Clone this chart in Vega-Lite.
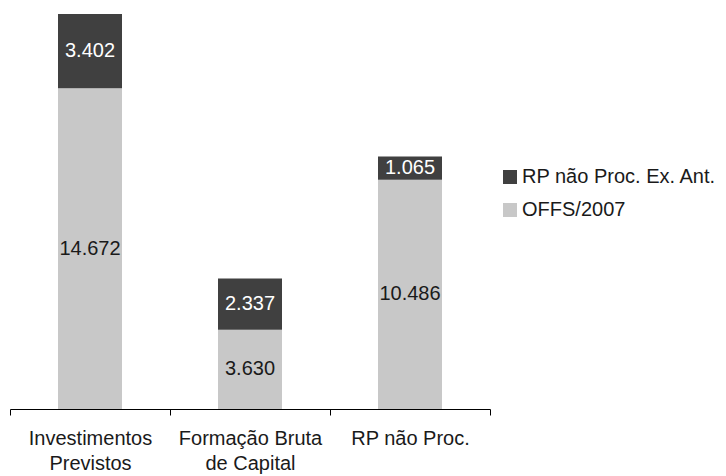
{
  "$schema": "https://vega.github.io/schema/vega-lite/v6.json",
  "autosize": {"type": "none"},
  "padding": {"left": 10, "top": 14, "right": 236, "bottom": 67},
  "width": 480,
  "height": 395,
  "background": "white",
  "config": {
    "font": "Liberation Sans",
    "view": {"stroke": null},
    "text": {"font": "Liberation Sans"}
  },
  "data": {
    "values": [
      {"cat": "Investimentos Previstos", "series": "OFFS/2007", "value": 14.672},
      {"cat": "Investimentos Previstos", "series": "RP não Proc. Ex. Ant.", "value": 3.402},
      {"cat": "Formação Bruta de Capital", "series": "OFFS/2007", "value": 3.630},
      {"cat": "Formação Bruta de Capital", "series": "RP não Proc. Ex. Ant.", "value": 2.337},
      {"cat": "RP não Proc.", "series": "OFFS/2007", "value": 10.486},
      {"cat": "RP não Proc.", "series": "RP não Proc. Ex. Ant.", "value": 1.065}
    ]
  },
  "transform": [
    {"stack": "value", "groupby": ["cat"], "sort": [{"field": "series", "order": "ascending"}], "as": ["v0", "v1"]}
  ],
  "encoding": {
    "x": {
      "field": "cat",
      "type": "nominal",
      "sort": null,
      "scale": {"paddingInner": 0, "paddingOuter": 0},
      "axis": {
        "title": null,
        "labelAngle": 0,
        "labelFontSize": 20,
        "labelColor": "#1a1a1a",
        "labelLineHeight": 25,
        "labelPadding": 13,
        "labelBaseline": "top",
        "domainColor": "#000000",
        "domainWidth": 1,
        "tickColor": "#000000",
        "tickSize": 6,
        "tickBand": "extent",
        "labelExpr": "datum.label == 'Investimentos Previstos' ? ['Investimentos', 'Previstos'] : datum.label == 'Formação Bruta de Capital' ? ['Formação Bruta', 'de Capital'] : datum.label"
      }
    }
  },
  "layer": [
    {
      "mark": {"type": "bar", "width": {"band": 0.4}},
      "encoding": {
        "y": {"field": "v0", "type": "quantitative", "scale": {"domain": [0, 18.074], "nice": false}, "axis": null},
        "y2": {"field": "v1"},
        "color": {
          "field": "series",
          "type": "nominal",
          "scale": {"domain": ["RP não Proc. Ex. Ant.", "OFFS/2007"], "range": ["#404040", "#c8c8c8"]},
          "legend": {
            "title": null,
            "orient": "none",
            "legendX": 490,
            "legendY": 153,
            "padding": 0,
            "symbolType": "square",
            "symbolSize": 196,
            "symbolStrokeWidth": 0,
            "labelFontSize": 20,
            "labelColor": "#1a1a1a",
            "labelOffset": 2,
            "rowPadding": 13,
            "labelLimit": 300
          }
        }
      }
    },
    {
      "transform": [
        {"fold": ["v0", "v1"], "as": ["edge", "pos"]}
      ],
      "mark": {"type": "text", "fontSize": 20, "baseline": "middle", "align": "center"},
      "encoding": {
        "y": {"field": "pos", "aggregate": "mean", "type": "quantitative", "scale": {"domain": [0, 18.074], "nice": false}, "axis": null},
        "detail": {"field": "series"},
        "text": {"field": "value", "type": "quantitative", "format": ".3f"},
        "color": {
          "condition": {"test": "datum.series === 'OFFS/2007'", "value": "#1a1a1a"},
          "value": "#ffffff"
        }
      }
    }
  ]
}
